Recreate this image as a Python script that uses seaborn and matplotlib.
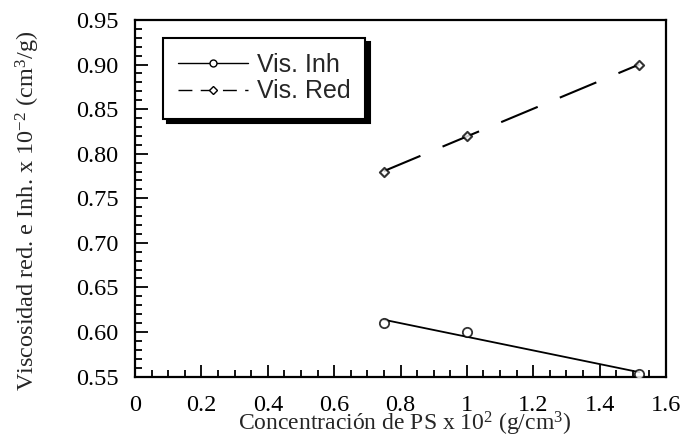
import numpy as np
import pandas as pd
import matplotlib
matplotlib.use('Agg')
import matplotlib.pyplot as plt
from matplotlib.lines import Line2D
from matplotlib.ticker import MultipleLocator, FixedLocator
import seaborn as sns

# Data
conc = [0.75, 1.0, 1.52]
vis_inh = [0.61, 0.60, 0.553]
vis_red = [0.78, 0.82, 0.90]
x_ticks = [0, 0.2, 0.4, 0.6, 0.8, 1.0, 1.2, 1.4, 1.6]
x_labels = ['0', '0.2', '0.4', '0.6', '0.8', '1', '1.2', '1.4', '1.6']
y_ticks = [0.55, 0.60, 0.65, 0.70, 0.75, 0.80, 0.85, 0.90, 0.95]

df = pd.DataFrame({'Conc': conc, 'Inh': vis_inh, 'Red': vis_red})

sns.set_style('ticks')
plt.rcParams['font.family'] = ['Liberation Serif', 'DejaVu Serif']
plt.rcParams['mathtext.fontset'] = 'custom'
plt.rcParams['mathtext.rm'] = 'Liberation Serif'
plt.rcParams['mathtext.it'] = 'Liberation Serif:italic'

fig = plt.figure(figsize=(6.85, 4.38), dpi=100)
ax = fig.add_axes([135 / 685, 1 - 376.5 / 438, 531 / 685, 356.5 / 438])

sns.regplot(x='Conc', y='Inh', data=df, ax=ax, ci=None, truncate=True, marker='o',
            scatter_kws={'s': 45, 'facecolors': 'white', 'edgecolors': 'black',
                         'linewidths': 1.3, 'zorder': 3},
            line_kws={'color': 'black', 'lw': 1.3})
sns.regplot(x='Conc', y='Red', data=df, ax=ax, ci=None, truncate=True, marker='D',
            scatter_kws={'s': 22, 'facecolors': 'white', 'edgecolors': 'black',
                         'linewidths': 1.5, 'zorder': 3},
            line_kws={'color': 'black', 'lw': 1.5, 'dashes': (19, 11.5)})

ax.set_xlim(0, 1.6)
ax.set_ylim(0.55, 0.95)
ax.xaxis.set_major_locator(FixedLocator(x_ticks))
ax.set_xticklabels(x_labels)
ax.xaxis.set_minor_locator(MultipleLocator(0.05))
ax.yaxis.set_major_locator(FixedLocator(y_ticks))
ax.set_yticklabels([f'{v:.2f}' for v in y_ticks])
ax.yaxis.set_minor_locator(MultipleLocator(0.01))

ax.tick_params(axis='both', which='both', direction='in', top=False, right=False,
               width=1.3, labelsize=17.5, colors='black')
ax.tick_params(axis='both', which='major', length=9)
ax.tick_params(axis='both', which='minor', length=5)
ax.tick_params(axis='x', which='major', pad=13)
ax.tick_params(axis='y', which='major', pad=12)

for sp in ax.spines.values():
    sp.set_visible(True)
    sp.set_linewidth(1.6)
    sp.set_color('black')

ax.set_xlabel(r'Concentración de PS x 10$^{2}$ (g/cm$^{3}$)', fontsize=17)
ax.set_ylabel(r'Viscosidad red. e Inh. x 10$^{-2}$ (cm$^{3}$/g)', fontsize=17.5)
ax.xaxis.set_label_coords(0.508, -0.152)
ax.xaxis.label.set_verticalalignment('baseline')
ax.yaxis.set_label_coords(-0.175, 0.464)

handles = [
    Line2D([], [], color='black', lw=1.0, marker='o', markersize=5,
           markerfacecolor='white', markeredgecolor='black'),
    Line2D([], [], color='black', lw=1.0, marker='D', markersize=4,
           markerfacecolor='white', markeredgecolor='black', dashes=(10, 6)),
]
leg = ax.legend(handles, ['Vis. Inh', 'Vis. Red'], loc='upper left',
                bbox_to_anchor=(28 / 531, 1 - 18 / 356.5), borderaxespad=0,
                numpoints=1, prop={'family': 'Liberation Sans', 'size': 18},
                frameon=True, fancybox=False, handlelength=2.8, handletextpad=0.35,
                borderpad=0.6, labelspacing=0.1,
                shadow={'color': 'black', 'alpha': 1, 'ox': 3, 'oy': -3})
leg.get_frame().set_edgecolor('black')
leg.get_frame().set_linewidth(1.5)
leg.get_frame().set_alpha(1)

fig.savefig('out.png', dpi=100)
